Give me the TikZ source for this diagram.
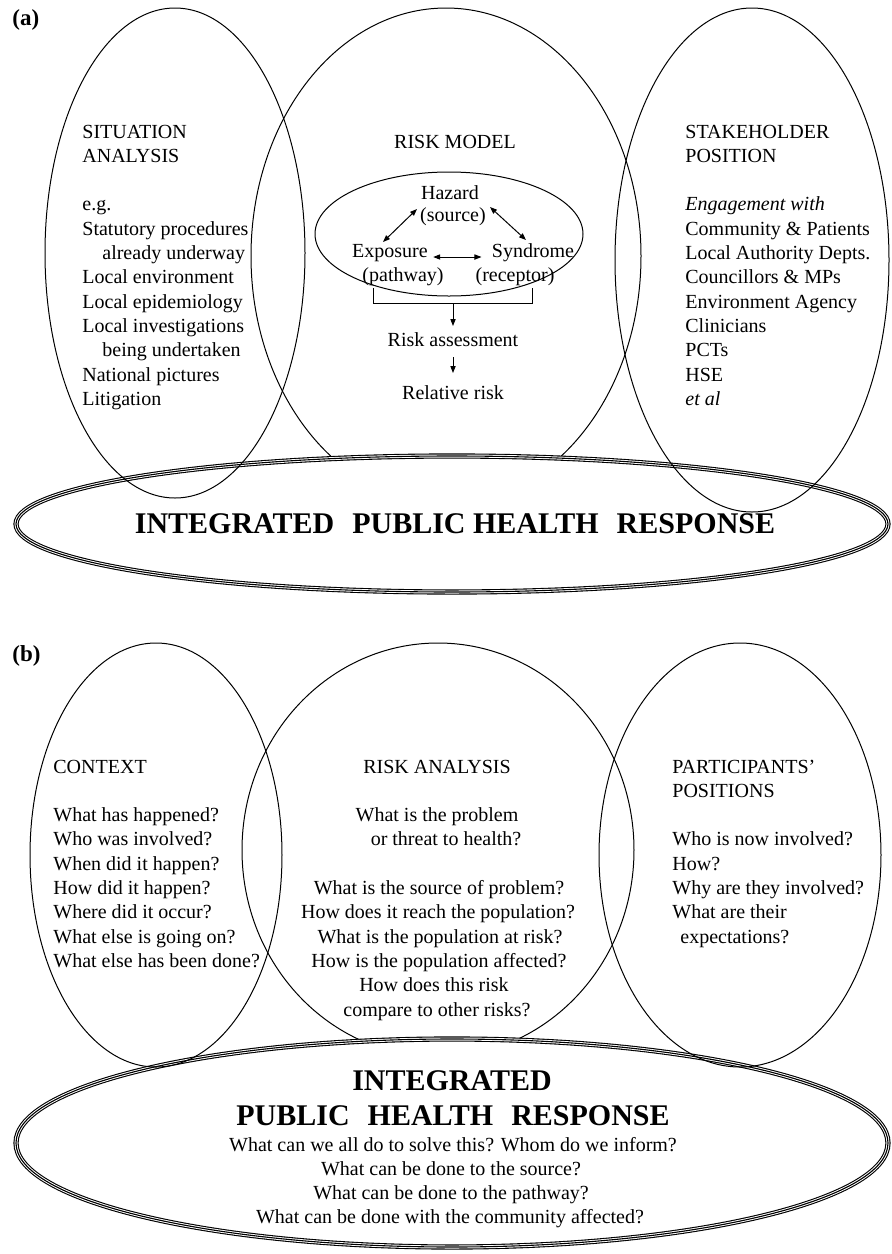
\documentclass[tikz,border=0pt]{standalone}
\usepackage{fontspec}
\setmainfont{Liberation Serif}
\usetikzlibrary{arrows.meta,calc}
\newcommand\tripleell[3]{%
  \fill[white] #1 ellipse [x radius=#2, y radius=#3];
  \draw[line width=2.6pt] #1 ellipse [x radius=#2, y radius=#3];
  \draw[white,line width=1.5pt] #1 ellipse [x radius=#2, y radius=#3];
  \draw[line width=0.55pt] #1 ellipse [x radius=#2, y radius=#3];}
\begin{document}
\begin{tikzpicture}[x=0.5pt,y=-0.5pt,
  txt/.style={inner sep=0pt, font=\fontsize{10}{12}\selectfont},
  bigtxt/.style={inner sep=0pt, font=\fontsize{15}{18}\selectfont\bfseries},
  lbl/.style={inner sep=0pt, font=\fontsize{11.5}{14}\selectfont\bfseries},
  venn/.style={draw=black, line width=0.5pt},
  tip/.tip={Triangle[length=3.5pt,width=2.6pt]},
  arr/.style={-tip, line width=0.5pt},
  darr/.style={tip-tip, line width=0.5pt}]
\useasboundingbox (0,0) rectangle (892,1254);

% ================= panel (a) =================
\node[lbl, anchor=west] (la) at (12,20) {(a)};
\draw[venn] (446,256) ellipse [x radius=195, y radius=248];
\tripleell{(452,524)}{436}{68}
\draw[venn] (175,253) ellipse [x radius=130, y radius=245];
\draw[venn] (752,260) ellipse [x radius=137, y radius=252];

% situation analysis
\foreach \i/\t in {0/SITUATION, 1/ANALYSIS, 3/e.g., 4/Statutory procedures,
  6/Local environment, 7/Local epidemiology, 8/Local investigations,
  10/National pictures, 11/Litigation}
  \node[txt, anchor=base west] (sa\i) at (82, 138+24.3*\i) {\t};
\foreach \i/\t in {5/already underway, 9/being undertaken}
  \node[txt, anchor=base west] (sa\i) at (102, 138+24.3*\i) {\t};

% stakeholder position
\foreach \i/\t in {0/STAKEHOLDER, 1/POSITION, 4/Community \& Patients,
  5/Local Authority Depts., 6/Councillors \& MPs, 7/Environment Agency,
  8/Clinicians, 9/PCTs, 10/HSE}
  \node[txt, anchor=base west] (sp\i) at (685, 138+24.3*\i) {\t};
\node[txt, anchor=base west] (sp3) at (685, 138+24.3*3) {\itshape Engagement with};
\node[txt, anchor=base west] (sp11) at (685, 138+24.3*11) {\itshape et al};

% risk model
\node[txt] (rm) at (455,142) {RISK MODEL};
\draw[venn] (449,234) ellipse [x radius=134, y radius=62];
\node[txt] (haz) at (450,193) {Hazard};
\node[txt] (src) at (453,217) {(source)};
\node[txt] (exp) at (390,253) {Exposure};
\node[txt] (pth) at (403,277) {(pathway)};
\node[txt] (syn) at (533,253) {Syndrome};
\node[txt] (rec) at (515,277) {(receptor)};
\coordinate (h1) at (417,209);
\coordinate (e1) at (383,242);
\coordinate (h2) at (490,207);
\coordinate (s2) at (526,240);
\draw[darr] (h1) -- (e1);
\draw[darr] (h2) -- (s2);
\draw[darr] ([xshift=2.5pt]exp.east |- 0,257) -- ([xshift=-5pt]syn.west |- 0,257);
\coordinate (bl) at (373,288);
\coordinate (br) at (532,288);
\coordinate (bm) at (453,303);
\draw[line width=0.5pt] (bl) -- (bl |- bm) -- (br |- bm) -- (br);
\node[txt] (ra) at (453,340) {Risk assessment};
\node[txt] (rr) at (453,393) {Relative risk};
\draw[arr] (bm) -- (bm |- 0,326);
\draw[arr] (ra.south |- 0,357) -- (ra.south |- 0,373);

\node[bigtxt, anchor=base] (ipa) at (455,533)
  {INTEGRATED\hspace{0.6em}PUBLIC HEALTH\hspace{0.6em}RESPONSE};

% ================= panel (b) =================
\node[lbl, anchor=west] (lb) at (12,656) {(b)};
\draw[venn] (438,850) ellipse [x radius=196, y radius=207];
\tripleell{(452,1143)}{436}{104}
\draw[venn] (156,855) ellipse [x radius=126, y radius=212];
\draw[venn] (740,855) ellipse [x radius=141, y radius=212];

% context
\foreach \i/\t in {0/CONTEXT, 2/What has happened?, 3/Who was involved?,
  4/When did it happen?, 5/How did it happen?, 6/Where did it occur?,
  7/What else is going on?, 8/What else has been done?}
  \node[txt, anchor=base west] (cx\i) at (53, 773+24.3*\i) {\t};

% participants
\foreach \i/\t in {0/PARTICIPANTS', 1/POSITIONS, 3/Who is now involved?,
  4/How?, 5/Why are they involved?, 6/What are their}
  \node[txt, anchor=base west] (pp\i) at (672, 773+24.3*\i) {\t};
\node[txt, anchor=base west] (pp7) at (680, 773+24.3*7) {expectations?};

% risk analysis
\foreach \i/\x/\t in {0/437/RISK ANALYSIS, 2/437/What is the problem,
  3/446/or threat to health?, 5/439/What is the source of problem?,
  6/438/How does it reach the population?, 7/440/What is the population at risk?,
  8/439/How is the population affected?, 9/434/How does this risk,
  10/437/compare to other risks?}
  \node[txt, anchor=base] (ran\i) at (\x, 773+24.3*\i) {\t};

% integrated response
\node[bigtxt, anchor=base] (ipb1) at (452,1090) {INTEGRATED};
\node[bigtxt, anchor=base] (ipb2) at (453,1125)
  {PUBLIC\hspace{0.6em}HEALTH\hspace{0.6em}RESPONSE};
\foreach \i/\x/\t in {0/453/What can we all do to solve this? Whom do we inform?,
  1/451/What can be done to the source?, 2/451/What can be done to the pathway?,
  3/450/What can be done with the community affected?}
  \node[txt, anchor=base] (q\i) at (\x, 1151+24.3*\i) {\t};
\end{tikzpicture}
\end{document}
